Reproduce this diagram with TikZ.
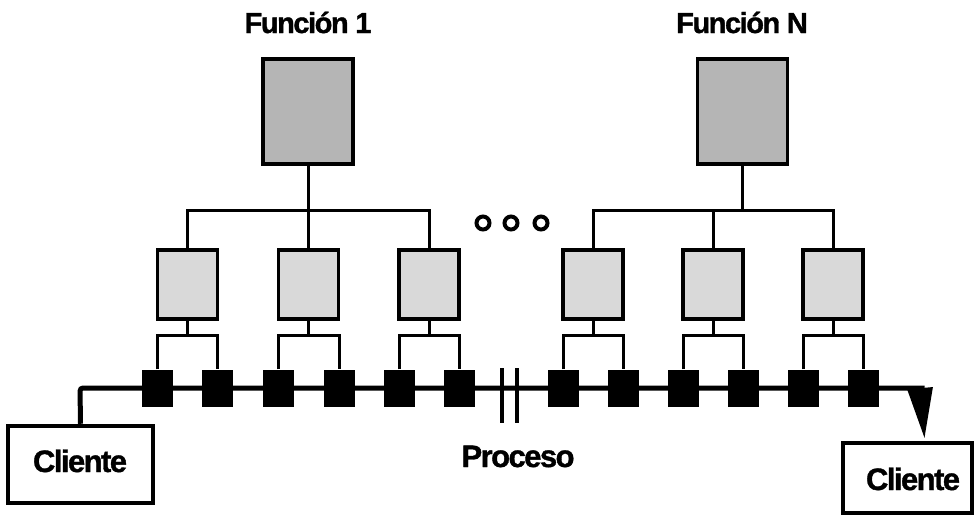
\documentclass[tikz,border=0pt]{standalone}
\usepackage{fontspec}
\newfontfamily\labfont[LetterSpace=-5,FakeBold=1.2]{Liberation Sans}
\usetikzlibrary{arrows.meta,calc}
\definecolor{bigfill}{gray}{0.71}
\definecolor{smallfill}{gray}{0.85}
\tikzset{
  bigbox/.style={draw, line width=3.8pt, fill=bigfill, minimum width=90pt, minimum height=105pt, inner sep=0pt},
  smallbox/.style={draw, line width=3.8pt, fill=smallfill, minimum width=60pt, minimum height=69pt, inner sep=0pt},
  port/.style={fill=black, minimum width=31pt, minimum height=37pt, inner sep=0pt},
  clientbox/.style={draw, line width=4.5pt, fill=white, inner sep=0pt},
  lab/.style={font=\labfont\bfseries\fontsize{29}{30}\selectfont, inner sep=0pt, anchor=base},
  clab/.style={font=\labfont\bfseries\fontsize{31}{32}\selectfont, inner sep=0pt, anchor=base},
  conn/.style={line width=3pt},
  mainline/.style={line width=5pt},
  dot/.style={circle, draw, line width=4pt, minimum size=13pt, inner sep=0pt}
}
\begin{document}
\begin{tikzpicture}[x=1pt,y=-1pt]
\useasboundingbox (0,0) rectangle (976,517);
% titles
\node[lab] (t1) at (308,33) {Función 1};
\node[lab] (tN) at (742,33) {Función N};
% big boxes
\node[bigbox] (F1) at (308,111.5) {};
\node[bigbox] (FN) at (742.5,111.5) {};
% small boxes
\foreach \n/\x in {a/187.5,b/308.5,c/429,d/593,e/713,f/833}
  \node[smallbox] (s\n) at (\x,284.5) {};
% ports
\foreach \n/\x in {1/157.5,2/217.5,3/278.5,4/339,5/399,6/459,7/563,8/623,9/683,10/743,11/803,12/863}
  \coordinate (pc\n) at (\x,388);
% clients
\node[clientbox, minimum width=145pt, minimum height=77pt] (cl) at (80.5,464.5) {};
\node[clab] (cltxt) at (80,472) {Cliente};
\node[clientbox, minimum width=129pt, minimum height=70pt] (cr) at (907.5,478) {};
\node[clab] (crtxt) at (913,490) {Cliente};
\node[clab] (proc) at (518,467) {Proceso};
% main line
\coordinate (lcorner) at (80,388);
\coordinate (rcorner) at (924.5,388);
\coordinate (tip) at (924.5,438);
\draw[mainline, rounded corners=3pt] (cl.north) -- (lcorner) -- (rcorner);
\draw[line width=3pt, -{Triangle[width=25pt,length=50pt]}] (920,388) -- (tip);
% break marks
\coordinate (b1t) at (502,368); \coordinate (b1b) at (502,423);
\coordinate (b2t) at (517,368); \coordinate (b2b) at (517,423);
\draw[line width=4.5pt] (b1t) -- (b1b);
\draw[line width=4.5pt] (b2t) -- (b2b);
% connectors from big to small
\coordinate (bar1) at (308,210);
\coordinate (barN) at (742.5,210);
\draw[conn] (F1.south) -- (bar1);
\draw[conn] (sa.north) |- (bar1) -| (sc.north);
\draw[conn] (sb.north) -- (sb.north |- bar1);
\draw[conn] (FN.south) -- (barN);
\draw[conn] (sd.north) |- (barN) -| (sf.north);
\draw[conn] (se.north) -- (se.north |- barN);
% port nodes
\foreach \i in {1,...,12}
  \node[port] (p\i) at (pc\i) {};
% small to ports
\foreach \s/\i/\j in {a/1/2,b/3/4,c/5/6,d/7/8,e/9/10,f/11/12}{
  \coordinate (m\s) at ($(s\s.south)+(0,15)$);
  \draw[conn] (s\s.south) -- (m\s);
  \draw[conn] (p\i.north) |- (m\s) -| (p\j.north);
}
% dots
\node[dot] (d1) at (483,223) {};
\node[dot] (d2) at (511,223) {};
\node[dot] (d3) at (541,223) {};
\end{tikzpicture}
\end{document}
